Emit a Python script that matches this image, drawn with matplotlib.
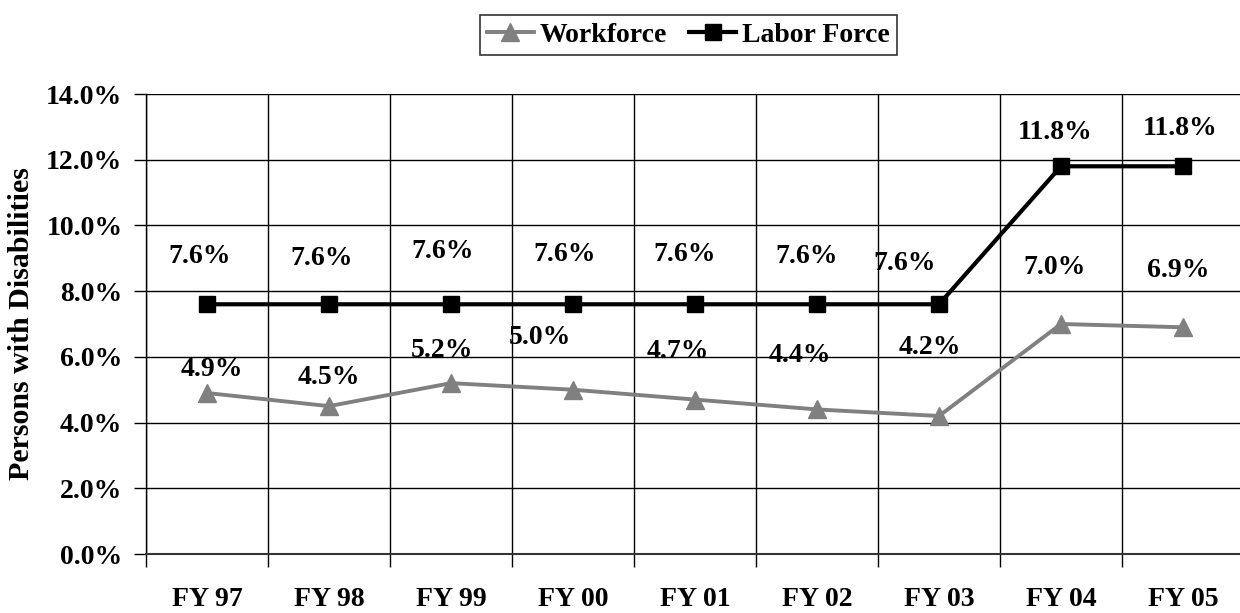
import matplotlib.pyplot as plt
from matplotlib.ticker import FuncFormatter

plt.rcParams["font.family"] = ["Liberation Serif", "DejaVu Serif"]
plt.rcParams["font.weight"] = "bold"

years = ["FY 97", "FY 98", "FY 99", "FY 00", "FY 01", "FY 02", "FY 03", "FY 04", "FY 05"]
workforce = [4.9, 4.5, 5.2, 5.0, 4.7, 4.4, 4.2, 7.0, 6.9]
labor_force = [7.6, 7.6, 7.6, 7.6, 7.6, 7.6, 7.6, 11.8, 11.8]

# label offsets in pixels (dx, dy), roughly where Excel put them
wf_offsets = [(5, 23), (0, 29), (-9, 33), (-33, 52), (-17, 48), (-17, 54), (-9, 69), (-6, 56), (-5, 57)]
lf_offsets = [(-7, 48), (-7, 46), (-8, 53), (-8, 50), (-10, 50), (-10, 48), (-34, 41), (-6, 34), (-3, 38)]

fs = 20

fig = plt.figure(figsize=(12.4, 6.13), dpi=100)
ax = fig.add_axes([146 / 1240, 59 / 613, 1098 / 1240, 460 / 613])

x = list(range(len(years)))
ax.plot(x, workforce, color="#808080", lw=2.8, marker="^", ms=13, label="Workforce", zorder=3)
ax.plot(x, labor_force, color="black", lw=3.0, marker="s", ms=12, label="Labor Force", zorder=3)

for i, v in enumerate(workforce):
    ax.annotate(f"{v:.1f}%", (i, v), xytext=wf_offsets[i], textcoords="offset pixels",
                ha="center", va="center", fontsize=fs, fontweight="bold")
for i, v in enumerate(labor_force):
    ax.annotate(f"{v:.1f}%", (i, v), xytext=lf_offsets[i], textcoords="offset pixels",
                ha="center", va="center", fontsize=fs, fontweight="bold")

ax.set_xlim(-0.5, len(years) - 0.5)
ax.set_ylim(0, 14)
ax.set_yticks(range(0, 15, 2))
ax.yaxis.set_major_formatter(FuncFormatter(lambda v, p: f"{v:.1f}%"))

# category boundaries as major ticks / grid, names as minor ticks
ax.set_xticks([i - 0.5 for i in range(len(years) + 1)])
ax.set_xticklabels([])
ax.set_xticks(x, minor=True)
ax.set_xticklabels(years, minor=True)
ax.tick_params(axis="x", which="major", length=9, width=1, direction="out")
ax.tick_params(axis="x", which="minor", length=0, pad=24, labelsize=fs)
ax.tick_params(axis="y", length=9, width=1, direction="out", pad=8, labelsize=fs)

ax.grid(True, which="major", color="black", lw=1)
ax.set_axisbelow(True)
for s in ["top", "right"]:
    ax.spines[s].set_visible(False)
ax.spines["left"].set_linewidth(1)
ax.spines["bottom"].set_linewidth(1.5)
ax.spines["bottom"].set_color("#333333")

ax.set_ylabel("Persons with Disabilities", fontsize=21.5, fontweight="bold")
ax.yaxis.set_label_coords(-111 / 1098, 0.5)

leg = fig.legend(loc="center", bbox_to_anchor=(0.555, 0.943), ncol=2, fontsize=fs,
                 frameon=True, fancybox=False, edgecolor="black", handlelength=1.7,
                 handletextpad=0.2, columnspacing=0.8, borderpad=0.25)
leg.get_frame().set_linewidth(1.2)

fig.savefig("out.png", dpi=100)
